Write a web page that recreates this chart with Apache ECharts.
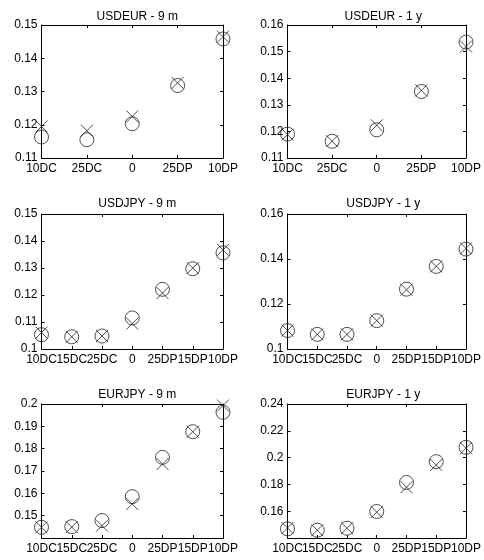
<!DOCTYPE html>
<html>
<head>
<meta charset="utf-8">
<script src="https://cdn.jsdelivr.net/npm/echarts@6/dist/echarts.min.js"></script>
<style>html,body{margin:0;padding:0;background:#fff;}#c{width:484px;height:560px;}</style>
</head>
<body>
<div id="c"></div>
<script>
// Categories
const cats5 = ['10DC', '25DC', '0', '25DP', '10DP'];
const cats7 = ['10DC', '15DC', '25DC', '0', '25DP', '15DP', '10DP'];
const titles = ['USDEUR - 9 m', 'USDEUR - 1 y', 'USDJPY - 9 m', 'USDJPY - 1 y', 'EURJPY - 9 m', 'EURJPY - 1 y'];

// Series values (circle = 'o', cross = 'x')
const usdeur9mCircle = [0.1163, 0.1155, 0.1203, 0.1318, 0.1458];
const usdeur9mCross  = [0.1195, 0.1182, 0.1225, 0.1326, 0.1465];
const usdeur1yCircle = [0.1190, 0.1163, 0.1206, 0.1350, 0.1536];
const usdeur1yCross  = [0.1188, 0.1163, 0.1223, 0.1354, 0.1519];
const usdjpy9mCircle = [0.1053, 0.1045, 0.1048, 0.1115, 0.1221, 0.1297, 0.1356];
const usdjpy9mCross  = [0.1061, 0.1045, 0.1048, 0.1094, 0.1207, 0.1300, 0.1367];
const usdjpy1yCircle = [0.1082, 0.1065, 0.1065, 0.1126, 0.1266, 0.1367, 0.1444];
const usdjpy1yCross  = [0.1082, 0.1065, 0.1065, 0.1126, 0.1263, 0.1367, 0.1447];
const eurjpy9mCircle = [0.1448, 0.1451, 0.1478, 0.1585, 0.1761, 0.1876, 0.1963];
const eurjpy9mCross  = [0.1448, 0.1449, 0.1455, 0.1552, 0.1731, 0.1876, 0.1993];
const eurjpy1yCircle = [0.1468, 0.1458, 0.1473, 0.1598, 0.1814, 0.1970, 0.2077];
const eurjpy1yCross  = [0.1475, 0.1458, 0.1473, 0.1593, 0.1779, 0.1945, 0.2070];

// Y-axis ranges (min, max, interval) and tick settings
const yMins      = [0.11, 0.11, 0.10, 0.10, 0.14, 0.14];
const yMaxs      = [0.15, 0.16, 0.15, 0.16, 0.20, 0.24];
const yIntervals = [0.01, 0.01, 0.01, 0.02, 0.01, 0.02];
const hideMinLabel = [false, false, false, false, true, true];

const panelCats = [cats5, cats5, cats7, cats7, cats7, cats7];
const circles = [usdeur9mCircle, usdeur1yCircle, usdjpy9mCircle, usdjpy1yCircle, eurjpy9mCircle, eurjpy1yCircle];
const crosses = [usdeur9mCross, usdeur1yCross, usdjpy9mCross, usdjpy1yCross, eurjpy9mCross, eurjpy1yCross];

// Layout
const colLeft = [41.5, 287.5];
const colWidth = 181.5;
const rowTop = [25, 214, 404];
const rowHeight = [133, 135, 134];
const titleTop = [6, 193, 384];

const FONT = 'Liberation Sans, Arial, Helvetica, sans-serif';
const lineStyle = { color: '#000', width: 1 };

const grid = [], xAxis = [], yAxis = [], series = [], title = [];
for (let i = 0; i < 6; i++) {
  const r = Math.floor(i / 2), c = i % 2;
  grid.push({ left: colLeft[c], top: rowTop[r], width: colWidth, height: rowHeight[r], containLabel: false });
  title.push({
    text: titles[i], left: colLeft[c] + colWidth / 2, top: titleTop[r], textAlign: 'center',
    textStyle: { fontFamily: FONT, fontSize: 12, fontWeight: 'normal', color: '#000' }
  });
  const minV = yMins[i], hide = hideMinLabel[i];
  // bottom x axis
  xAxis.push({
    type: 'category', gridIndex: i, data: panelCats[i], boundaryGap: false, position: 'bottom',
    axisLine: { show: true, lineStyle }, axisTick: { show: true, inside: true, length: 3, lineStyle },
    axisLabel: { show: true, margin: 5, color: '#000', fontFamily: FONT, fontSize: 12, interval: 0 },
    splitLine: { show: false }
  });
  // top x axis (box)
  xAxis.push({
    type: 'category', gridIndex: i, data: panelCats[i], boundaryGap: false, position: 'top',
    axisLine: { show: true, lineStyle }, axisTick: { show: true, inside: true, length: 3, lineStyle },
    axisLabel: { show: false }, splitLine: { show: false }
  });
  const fmt = v => (hide && Math.abs(v - minV) < 1e-9) ? '' : String(+v.toFixed(4));
  yAxis.push({
    type: 'value', gridIndex: i, min: yMins[i], max: yMaxs[i], interval: yIntervals[i], position: 'left',
    axisLine: { show: true, lineStyle }, axisTick: { show: true, inside: true, length: 3, lineStyle },
    axisLabel: { show: true, margin: 4, color: '#000', fontFamily: FONT, fontSize: 12, formatter: fmt },
    splitLine: { show: false }
  });
  yAxis.push({
    type: 'value', gridIndex: i, min: yMins[i], max: yMaxs[i], interval: yIntervals[i], position: 'right',
    axisLine: { show: true, lineStyle }, axisTick: { show: true, inside: true, length: 3, lineStyle },
    axisLabel: { show: false }, splitLine: { show: false }
  });
  series.push({
    type: 'scatter', xAxisIndex: 2 * i, yAxisIndex: 2 * i, data: circles[i],
    symbol: 'circle', symbolSize: 14,
    itemStyle: { color: 'none', borderColor: '#222', borderWidth: 1 },
    emphasis: { disabled: true }, silent: true, clip: false
  });
  series.push({
    type: 'scatter', xAxisIndex: 2 * i, yAxisIndex: 2 * i, data: crosses[i],
    symbol: 'path://M0,0L10,10M10,0L0,10', symbolSize: 12,
    itemStyle: { color: 'none', borderColor: '#222', borderWidth: 1 },
    emphasis: { disabled: true }, silent: true, clip: false
  });
}

const chart = echarts.init(document.getElementById('c'), null, { renderer: 'canvas' });
chart.setOption({ animation: false, backgroundColor: '#fff', title, grid, xAxis, yAxis, series });
</script>
</body>
</html>
